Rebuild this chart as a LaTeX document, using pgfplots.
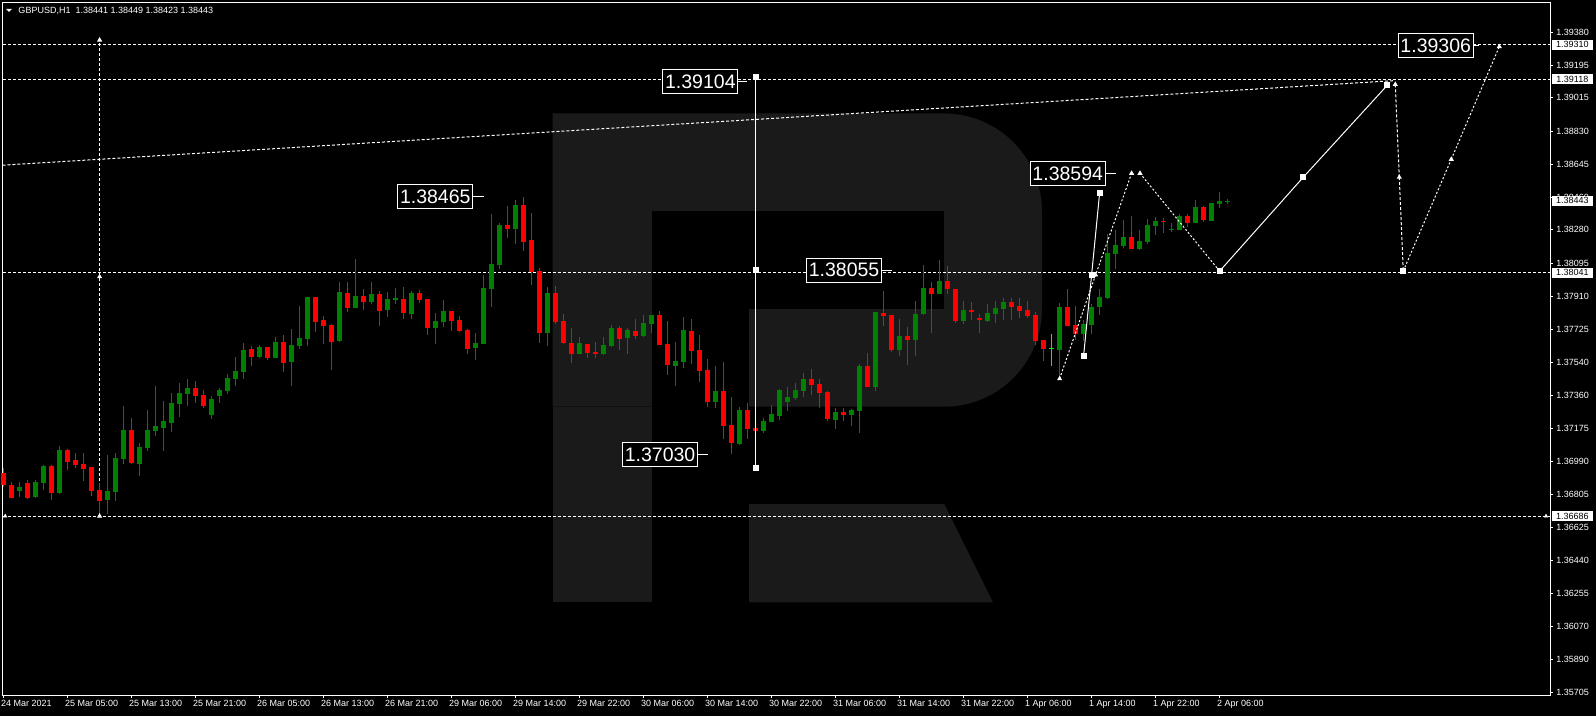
\documentclass[border=0pt]{standalone}
\usepackage{fontspec}
\setmainfont{Liberation Sans}
\usepackage{pgfplots}
\usepackage{pgfplotstable}
\pgfplotsset{compat=1.18}

\definecolor{cup}{RGB}{0,128,0}
\definecolor{cdn}{RGB}{255,0,0}
\definecolor{cdoji}{RGB}{0,255,0}
\definecolor{wm}{RGB}{26,26,26}

% GBPUSD H1 candles: bar index, open, high, low, close
\pgfplotstableread{
i o h l c
2 1.36828 1.36876 1.36794 1.36848
4 1.36794 1.36887 1.36789 1.36876
5 1.36872 1.36968 1.36832 1.36965
7 1.36817 1.37077 1.36811 1.37054
13 1.36776 1.37026 1.36696 1.36826
14 1.36822 1.37038 1.36772 1.37010
15 1.37004 1.37299 1.36978 1.37166
17 1.36978 1.37093 1.36911 1.37071
18 1.37067 1.37277 1.37049 1.37166
19 1.37160 1.37411 1.37134 1.37188
20 1.37179 1.37327 1.37049 1.37216
21 1.37206 1.37372 1.37156 1.37316
22 1.37312 1.37427 1.37240 1.37372
23 1.37368 1.37450 1.37301 1.37399
26 1.37251 1.37355 1.37229 1.37338
27 1.37357 1.37399 1.37318 1.37388
28 1.37385 1.37477 1.37368 1.37455
29 1.37451 1.37572 1.37412 1.37494
30 1.37490 1.37650 1.37451 1.37611
32 1.37574 1.37639 1.37568 1.37628
34 1.37568 1.37683 1.37566 1.37656
36 1.37546 1.37728 1.37412 1.37639
37 1.37635 1.37858 1.37618 1.37678
38 1.37674 1.37908 1.37635 1.37906
42 1.37663 1.37990 1.37657 1.37934
44 1.37847 1.38118 1.37845 1.37912
46 1.37880 1.37990 1.37869 1.37923
48 1.37836 1.37934 1.37797 1.37895
49 1.37891 1.37956 1.37869 1.37901
51 1.37813 1.37940 1.37786 1.37927
54 1.37735 1.37817 1.37646 1.37771
55 1.37769 1.37889 1.37741 1.37828
59 1.37624 1.37706 1.37557 1.37650
60 1.37646 1.38029 1.37644 1.37956
61 1.37953 1.38368 1.37852 1.38090
62 1.38086 1.38318 1.38064 1.38307
64 1.38287 1.38446 1.38203 1.38418
68 1.37708 1.37962 1.37635 1.37928
72 1.37591 1.37683 1.37589 1.37650
75 1.37591 1.37683 1.37585 1.37639
76 1.37635 1.37750 1.37630 1.37734
78 1.37680 1.37734 1.37591 1.37722
80 1.37691 1.37806 1.37685 1.37761
81 1.37758 1.37808 1.37708 1.37806
84 1.37524 1.37656 1.37412 1.37550
85 1.37546 1.37795 1.37513 1.37722
89 1.37323 1.37522 1.37290 1.37385
92 1.37089 1.37294 1.37084 1.37277
95 1.37162 1.37232 1.37151 1.37216
96 1.37212 1.37305 1.37208 1.37255
97 1.37245 1.37394 1.37223 1.37388
98 1.37323 1.37405 1.37273 1.37349
99 1.37344 1.37427 1.37333 1.37388
100 1.37385 1.37485 1.37351 1.37450
104 1.37223 1.37290 1.37173 1.37266
106 1.37251 1.37284 1.37190 1.37279
107 1.37273 1.37533 1.37151 1.37522
109 1.37407 1.37825 1.37385 1.37823
112 1.37613 1.37784 1.37579 1.37689
114 1.37669 1.37884 1.37579 1.37811
115 1.37811 1.38084 1.37808 1.37956
117 1.37925 1.38112 1.37923 1.37995
120 1.37774 1.37884 1.37758 1.37834
123 1.37774 1.37867 1.37769 1.37817
124 1.37813 1.37884 1.37763 1.37845
125 1.37841 1.37901 1.37780 1.37878
132 1.37613 1.37871 1.37463 1.37850
135 1.37702 1.37778 1.37663 1.37758
136 1.37752 1.37867 1.37702 1.37852
137 1.37852 1.37951 1.37808 1.37906
138 1.37902 1.38257 1.37897 1.38151
139 1.38147 1.38279 1.38064 1.38198
140 1.38192 1.38335 1.38181 1.38240
142 1.38175 1.38279 1.38170 1.38218
143 1.38214 1.38340 1.38203 1.38309
144 1.38303 1.38352 1.38253 1.38331
146 1.38277 1.38318 1.38270 1.38287
147 1.38281 1.38368 1.38277 1.38357
149 1.38320 1.38446 1.38318 1.38407
151 1.38331 1.38432 1.38329 1.38430
152 1.38426 1.38491 1.38404 1.38441
153 1.38441 1.38449 1.38423 1.38443
}\bull

\pgfplotstableread{
i o h l c
0 1.36928 1.36952 1.36846 1.36859
1 1.36859 1.36874 1.36785 1.36789
3 1.36871 1.36887 1.36781 1.36789
6 1.36965 1.36970 1.36776 1.36817
8 1.37054 1.37060 1.36943 1.36989
9 1.36999 1.37038 1.36956 1.36971
10 1.36976 1.37038 1.36882 1.36950
11 1.36960 1.36962 1.36800 1.36828
12 1.36832 1.36869 1.36686 1.36772
16 1.37166 1.37232 1.36978 1.36982
24 1.37399 1.37438 1.37318 1.37357
25 1.37360 1.37388 1.37290 1.37301
31 1.37617 1.37633 1.37524 1.37574
33 1.37628 1.37630 1.37557 1.37568
35 1.37656 1.37695 1.37490 1.37541
39 1.37906 1.37908 1.37713 1.37769
40 1.37778 1.37800 1.37646 1.37747
41 1.37750 1.37756 1.37502 1.37657
43 1.37928 1.37990 1.37824 1.37847
45 1.37912 1.37951 1.37836 1.37880
47 1.37923 1.37940 1.37747 1.37830
50 1.37895 1.37962 1.37786 1.37819
52 1.37928 1.37945 1.37875 1.37891
53 1.37895 1.37897 1.37695 1.37735
56 1.37828 1.37830 1.37717 1.37774
57 1.37778 1.37800 1.37709 1.37717
58 1.37722 1.37728 1.37591 1.37618
63 1.38307 1.38413 1.38237 1.38285
65 1.38418 1.38465 1.38164 1.38214
66 1.38224 1.38374 1.37975 1.38047
67 1.38051 1.38068 1.37652 1.37708
69 1.37928 1.37967 1.37758 1.37769
70 1.37773 1.37811 1.37646 1.37652
71 1.37650 1.37734 1.37541 1.37591
73 1.37644 1.37646 1.37568 1.37596
74 1.37602 1.37656 1.37568 1.37591
77 1.37734 1.37745 1.37613 1.37674
79 1.37717 1.37784 1.37674 1.37691
82 1.37806 1.37828 1.37639 1.37641
83 1.37644 1.37773 1.37474 1.37529
86 1.37717 1.37784 1.37535 1.37607
87 1.37611 1.37695 1.37435 1.37496
88 1.37500 1.37561 1.37296 1.37323
90 1.37385 1.37546 1.37114 1.37190
91 1.37193 1.37349 1.37030 1.37095
93 1.37277 1.37318 1.37117 1.37173
94 1.37177 1.37179 1.37160 1.37162
101 1.37450 1.37505 1.37362 1.37418
102 1.37424 1.37450 1.37290 1.37373
103 1.37379 1.37381 1.37218 1.37229
105 1.37266 1.37290 1.37218 1.37251
108 1.37522 1.37594 1.37405 1.37407
110 1.37817 1.37940 1.37747 1.37802
111 1.37806 1.37808 1.37602 1.37613
113 1.37689 1.37739 1.37529 1.37669
116 1.37956 1.37990 1.37708 1.37925
118 1.37995 1.38079 1.37923 1.37953
119 1.37951 1.37953 1.37761 1.37774
121 1.37834 1.37878 1.37780 1.37824
122 1.37789 1.37811 1.37708 1.37780
126 1.37878 1.37901 1.37780 1.37852
127 1.37858 1.37901 1.37791 1.37830
128 1.37836 1.37884 1.37791 1.37802
129 1.37808 1.37823 1.37641 1.37663
130 1.37667 1.37669 1.37552 1.37618
133 1.37850 1.37951 1.37745 1.37747
134 1.37752 1.37856 1.37669 1.37702
141 1.38240 1.38357 1.38173 1.38175
145 1.38331 1.38346 1.38264 1.38324
148 1.38357 1.38368 1.38296 1.38318
150 1.38407 1.38413 1.38326 1.38335
}\bear

\pgfplotstableread{
i o h l c
131 1.37622 1.37702 1.37524 1.37622
}\doji

\pgfplotsset{
  candle/.style 2 args={draw=none, mark=none, forget plot,
    error bars/.cd, y dir=plus, y explicit, error mark=none,
    error bar style={line width=#2, draw=#1}},
  lvl/.style={white, line width=1bp, dash pattern=on 3bp off 2bp, forget plot},
  fc/.style={white, line width=1bp, forget plot},
}
\tikzset{
  big/.style={draw=white, line width=1bp, fill=black, text=white,
    font=\fontsize{19.5bp}{20bp}\selectfont, inner xsep=2.2bp, inner ysep=0pt,
    minimum height=24bp, anchor=east},
  pbox/.style={fill=white, text=black, font=\fontsize{9bp}{10bp}\selectfont,
    inner sep=0pt, minimum width=41bp, minimum height=10bp, anchor=west, xshift=1.7bp},
}

\begin{document}
\begin{tikzpicture}
\fill[black] (0,0) rectangle (1596bp,716bp);
\begin{axis}[
  at={(2.5bp,21bp)}, anchor=south west,
  width=1547.5bp, height=692.5bp, scale only axis,
  xmin=-0.1375, xmax=193.3,
  ymin=1.35690, ymax=1.395459,
  clip=false,
  axis line style={white, line width=1bp},
  tick style={white, line width=1bp},
  major tick length=2.5bp,
  tick align=outside,
  xtick pos=left, ytick pos=right,
  yticklabel pos=right,
  scaled y ticks=false,
  xtick={0,8,...,152},
  xticklabels={24 Mar 2021, 25 Mar 05:00, 25 Mar 13:00, 25 Mar 21:00, 26 Mar 05:00,
    26 Mar 13:00, 26 Mar 21:00, 29 Mar 06:00, 29 Mar 14:00, 29 Mar 22:00,
    30 Mar 06:00, 30 Mar 14:00, 30 Mar 22:00, 31 Mar 06:00, 31 Mar 14:00,
    31 Mar 22:00, 1 Apr 06:00, 1 Apr 14:00, 1 Apr 22:00, 2 Apr 06:00},
  ytick={1.35705,1.35890,1.36070,1.36255,1.36440,1.36625,1.36805,1.36990,1.37175,
    1.37360,1.37540,1.37725,1.37910,1.38095,1.38280,1.38460,1.38645,1.38830,
    1.39015,1.39195,1.39380},
  yticklabels={1.35705,1.35890,1.36070,1.36255,1.36440,1.36625,1.36805,1.36990,1.37175,
    1.37360,1.37540,1.37725,1.37910,1.38095,1.38280,1.38460,1.38645,1.38830,
    1.39015,1.39195,1.39380},
  tick label style={text=white, font=\fontsize{9bp}{10bp}\selectfont, inner sep=0pt},
  xticklabel style={anchor=north west, xshift=-2.6bp, yshift=-2.7bp},
  yticklabel style={anchor=west, xshift=3.7bp},
]

% watermark logo
\fill[wm] (axis cs:68.64,1.38928) [rounded corners=98bp] -- (axis cs:129.8,1.38928)
  -- (axis cs:129.8,1.37295) [sharp corners] -- (axis cs:68.64,1.37295) -- cycle;
\fill[wm] (axis cs:68.64,1.37295) rectangle (axis cs:81.01,1.36206);
\fill[black] (axis cs:80.99,1.38387) rectangle (axis cs:117.6,1.37839);
\fill[black] (axis cs:80.99,1.37839) rectangle (axis cs:93.18,1.37295);
\fill[wm] (axis cs:93.18,1.36753) -- (axis cs:117.59,1.36753) -- (axis cs:123.67,1.36206)
  -- (axis cs:93.18,1.36206) -- cycle;

% levels
\addplot[lvl] coordinates {(-0.1375,1.39310) (193.3,1.39310)};
\addplot[lvl] coordinates {(-0.1375,1.39118) (193.3,1.39118)};
\addplot[lvl] coordinates {(-0.1375,1.38041) (193.3,1.38041)};
\addplot[lvl] coordinates {(-0.1375,1.36686) (193.3,1.36686)};
\addplot[lvl] coordinates {(-0.1375,1.38640) (173.9,1.39111)};
\addplot[lvl, mark=triangle*, mark size=2bp, mark options={solid}] coordinates {(12,1.36686) (12,1.38019) (12,1.39337)};
\addplot[only marks, white, mark=triangle*, mark size=2bp, forget plot] coordinates {(0.2,1.36686) (192.8,1.36686)};

% candles
\addplot[candle={cup}{1bp}] table[x=i, y=l, y error expr=\thisrow{h}-\thisrow{l}] {\bull};
\addplot[candle={cup}{5bp}] table[x=i, y=o, y error expr=\thisrow{c}-\thisrow{o}] {\bull};
\addplot[candle={cdn}{1bp}] table[x=i, y=l, y error expr=\thisrow{h}-\thisrow{l}] {\bear};
\addplot[candle={cdn}{5bp}] table[x=i, y=c, y error expr=\thisrow{o}-\thisrow{c}] {\bear};
\addplot[candle={cdoji}{1bp}] table[x=i, y=l, y error expr=\thisrow{h}-\thisrow{l}] {\doji};
\addplot[only marks, cdoji, mark=-, mark size=2.5bp, mark options={line width=1bp}, forget plot] table[x=i, y=o] {\doji};

% range line and forecast
\addplot[fc, mark=square*, mark size=2.5bp] coordinates {(94,1.39133) (94,1.38055) (94,1.36952)};
\addplot[fc, mark=square*, mark size=2.5bp] coordinates {(135,1.37578) (136,1.38029) (137,1.38484)};
\addplot[fc, dash pattern=on 2bp off 2bp, mark=triangle*, mark size=2bp, mark options={solid}] coordinates {(132,1.37451) (136.5,1.38029) (141,1.38595)};
\addplot[fc, dash pattern=on 2bp off 2bp, mark=triangle*, mark size=2bp, mark options={solid}] coordinates {(142.05,1.38595)};
\addplot[fc, dash pattern=on 2bp off 2bp] coordinates {(142.05,1.38595) (152,1.38050)};
\addplot[fc, mark=square*, mark size=2.5bp] coordinates {(152,1.38050) (162.46,1.38573) (172.96,1.39085)};
\addplot[fc, dash pattern=on 3bp off 2bp, mark=triangle*, mark size=2bp, mark options={solid}] coordinates {(173.96,1.39090) (174.46,1.38573)};
\addplot[fc, dash pattern=on 3bp off 2bp] coordinates {(174.46,1.38573) (174.96,1.38051)};
\addplot[fc, mark=square*, mark size=2.5bp, only marks] coordinates {(174.96,1.38051)};
\addplot[fc, dash pattern=on 2bp off 2bp, mark=triangle*, mark size=2bp, mark options={solid}] coordinates {(180.96,1.38673) (186.96,1.39300)};
\addplot[fc, dash pattern=on 2bp off 2bp] coordinates {(174.96,1.38051) (180.96,1.38673)};

% price labels on the chart
\addplot[fc] coordinates {(58.7,1.38465) (60.05,1.38465)};
\node[big] at (axis cs:58.7,1.38465) {1.38465};
\addplot[fc] coordinates {(86.8,1.37030) (88.05,1.37030)};
\node[big] at (axis cs:86.8,1.37030) {1.37030};
\addplot[fc] coordinates {(91.84,1.39104) (92.9,1.39104)};
\node[big] at (axis cs:91.84,1.39104) {1.39104};
\addplot[fc] coordinates {(109.8,1.38055) (111.05,1.38055)};
\node[big] at (axis cs:109.8,1.38055) {1.38055};
\addplot[fc] coordinates {(137.76,1.38594) (139,1.38594)};
\node[big] at (axis cs:137.76,1.38594) {1.38594};
\addplot[fc] coordinates {(183.76,1.39306) (184.4,1.39306)};
\node[big] at (axis cs:183.76,1.39306) {1.39306};

\coordinate (p1) at (axis cs:193.3,1.39310);
\coordinate (p2) at (axis cs:193.3,1.39118);
\coordinate (p3) at (axis cs:193.3,1.38443);
\coordinate (p4) at (axis cs:193.3,1.38041);
\coordinate (p5) at (axis cs:193.3,1.36686);
\end{axis}

\node[pbox] at (p1) {1.39310};
\node[pbox] at (p2) {1.39118};
\node[pbox] at (p3) {1.38443};
\node[pbox] at (p4) {1.38041};
\node[pbox] at (p5) {1.36686};

\fill[white] (6bp,707bp) -- (12bp,707bp) -- (9bp,704bp) -- cycle;
\node[anchor=base west, inner sep=0pt, text=white, font=\fontsize{9bp}{10bp}\selectfont]
  at (18.3bp,702.1bp) {GBPUSD,H1\ \ 1.38441 1.38449 1.38423 1.38443};
\end{tikzpicture}
\end{document}
